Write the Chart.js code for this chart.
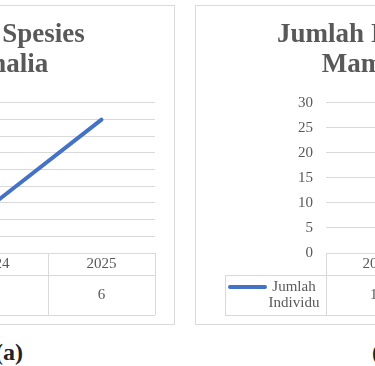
<!DOCTYPE html>
<html>
<head>
<meta charset="utf-8">
<script src="https://cdn.jsdelivr.net/npm/chart.js@4.4.1/dist/chart.umd.min.js"></script>
<style>
  html, body { margin: 0; padding: 0; background: #fff; }
  body { width: 375px; height: 366px; overflow: hidden; position: relative; }
  .box { position: absolute; top: 5px; height: 320px; box-sizing: border-box; border: 1px solid #d9d9d9; }
  .box canvas { position: absolute; left: -1px; top: -1px; }
  .cap { position: absolute; top: 340px; font: bold 24px "Liberation Serif", serif; line-height: 24px; color: #222; white-space: nowrap; }
</style>
</head>
<body>
<div class="box" style="left:-182px;width:357px"><canvas id="spesiesChart" width="357" height="320"></canvas></div>
<div class="box" style="left:195px;width:357px"><canvas id="individuChart" width="357" height="320"></canvas></div>
<div class="cap" style="left:-5px">(a)</div>
<div class="cap" style="left:372px">(b)</div>
<script>
// data
var years = ['2024', '2025'];
var spesiesValues = [5, 6];
var individuValues = [18, 24];

// y axis ranges (min, max, step)
var spesiesAxis = [4.4, 6.2, 0.2];
var individuAxis = [0, 30, 5];

var lineColor = '#4472c4';
var textGrey = '#595959';
var gridGrey = '#d9d9d9';

// Excel style data table under the plot
var dataTable = {
    id: 'dataTable',
    afterDraw: function(chart, args, opts) {
        var ctx = chart.ctx;
        var a = chart.chartArea;
        var x = chart.scales.x;
        var labels = chart.data.labels;
        var values = chart.data.datasets[0].data;
        var colW = a.width / labels.length;
        var top = a.bottom, mid = a.bottom + 22, bot = a.bottom + 62;
        var keyLeft = 30;

        ctx.save();
        ctx.strokeStyle = gridGrey;
        ctx.lineWidth = 1;
        ctx.beginPath();
        ctx.moveTo(a.left, top + 0.5); ctx.lineTo(a.right, top + 0.5);
        ctx.moveTo(keyLeft, mid + 0.5); ctx.lineTo(a.right, mid + 0.5);
        ctx.moveTo(keyLeft, bot + 0.5); ctx.lineTo(a.right, bot + 0.5);
        ctx.moveTo(keyLeft + 0.5, mid); ctx.lineTo(keyLeft + 0.5, bot);
        for (var i = 0; i <= labels.length; i++) {
            var xx = Math.round(a.left + i * colW) + 0.5;
            ctx.moveTo(xx, top); ctx.lineTo(xx, bot);
        }
        ctx.stroke();

        ctx.fillStyle = textGrey;
        ctx.font = '15px "Liberation Serif"';
        ctx.textAlign = 'center';
        ctx.textBaseline = 'middle';
        labels.forEach(function(l, i) {
            var cx = x.getPixelForValue(i);
            ctx.fillText(l, cx, top + 11);
            ctx.fillText(String(values[i]), cx, mid + 20);
        });

        // legend key
        ctx.strokeStyle = lineColor;
        ctx.lineWidth = 4;
        ctx.lineCap = 'round';
        ctx.beginPath();
        ctx.moveTo(keyLeft + 5, mid + 12);
        ctx.lineTo(keyLeft + 40, mid + 12);
        ctx.stroke();
        ctx.fillText(opts.key[0], keyLeft + 69, mid + 12);
        ctx.fillText(opts.key[1], keyLeft + 69, mid + 28);
        ctx.restore();
    }
};

function makeChart(id, title, values, axis, key, axisWidth) {
    var canvas = document.getElementById(id).getContext('2d');
    return new Chart(canvas, {
        type: 'line',
        data: {
            labels: years,
            datasets: [{
                data: values,
                borderColor: lineColor,
                borderWidth: 4,
                borderCapStyle: 'round',
                pointRadius: 0,
                tension: 0
            }]
        },
        options: {
            responsive: false,
            animation: false,
            devicePixelRatio: 1,
            layout: { padding: { left: 20, right: 20, top: 0, bottom: 72 } },
            plugins: {
                legend: { display: false },
                tooltip: { enabled: false },
                title: {
                    display: true,
                    text: title,
                    color: textGrey,
                    font: { family: 'Liberation Serif', size: 27, weight: 'bold', lineHeight: 1.12 },
                    padding: { top: 15, bottom: 22.5 }
                },
                dataTable: { key: key }
            },
            scales: {
                x: { display: false, offset: true },
                y: {
                    min: axis[0],
                    max: axis[1],
                    ticks: {
                        stepSize: axis[2],
                        autoSkip: false,
                        padding: 13,
                        color: textGrey,
                        font: { family: 'Liberation Serif', size: 15 }
                    },
                    grid: { color: gridGrey, drawTicks: false },
                    border: { display: false },
                    afterFit: function(scale) { scale.width = axisWidth; }
                }
            }
        },
        plugins: [dataTable]
    });
}

makeChart('spesiesChart', ['Jumlah Spesies', 'Mamalia'], spesiesValues, spesiesAxis, ['Jumlah', 'Spesies'], 103);
makeChart('individuChart', ['Jumlah Individu', 'Mamalia'], individuValues, individuAxis, ['Jumlah', 'Individu'], 111);
</script>
</body>
</html>
